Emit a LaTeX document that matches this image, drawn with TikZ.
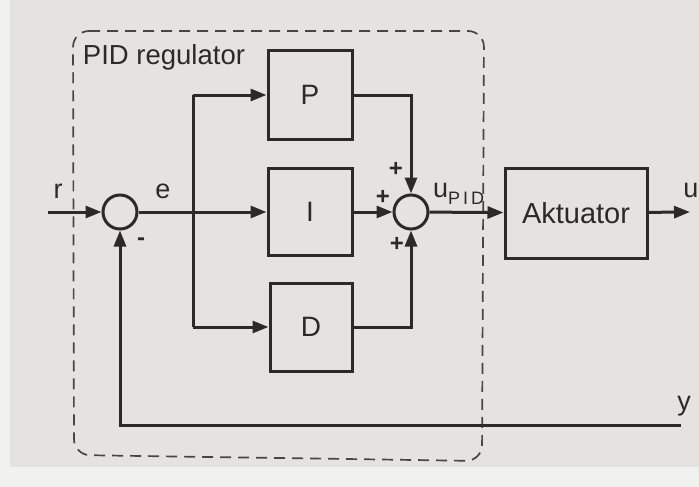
\documentclass[tikz,border=0pt]{standalone}
\usepackage{fontspec}
\setmainfont{Liberation Sans}
\usetikzlibrary{arrows.meta}
\definecolor{bgc}{RGB}{229,227,224}
\definecolor{margc}{RGB}{241,241,239}
\definecolor{ink}{RGB}{44,42,40}
\definecolor{dashc}{RGB}{72,70,68}
\begin{document}
\begin{tikzpicture}[x=1pt,y=-1pt,
  line/.style={draw=ink,line width=3pt},
  arr/.style={line,-{Triangle[length=16pt,width=12pt]}},
  blockbox/.style={draw=ink,line width=3pt,rectangle,inner sep=0pt,
     font=\fontsize{28}{30}\selectfont,text=ink},
  sumc/.style={draw=ink,line width=3pt,circle,minimum size=34pt,inner sep=0pt},
  lbl/.style={font=\fontsize{27}{29}\selectfont,text=ink,inner sep=0pt,anchor=base},
  sgn/.style={font=\fontsize{24}{26}\selectfont\bfseries,text=ink,inner sep=0pt}]
\fill[margc] (0,0) rectangle (699,487);
\fill[bgc] (10,0) rectangle (699,467);
\useasboundingbox (0,0) rectangle (699,487);
% dashed frame
\draw[dashc,line width=1.7pt,dash pattern=on 11pt off 7pt,rounded corners=16pt]
  (73,31) -- (484,31) -- (482,461) -- (74,455) -- cycle;
\node[lbl,font=\fontsize{27.5}{29}\selectfont] (title) at (164,65) {PID regulator};
% nodes
\node[sumc] (s1) at (120,212) {};
\node[sumc] (s2) at (411,212) {};
\node[blockbox,minimum width=84pt,minimum height=88pt] (P) at (310,95) {P};
\node[blockbox,minimum width=84pt,minimum height=87pt] (I) at (310,212) {I};
\node[blockbox,minimum width=82pt,minimum height=88pt] (D) at (311,327) {D};
\node[blockbox,minimum width=142pt,minimum height=90pt,font=\fontsize{29}{31}\selectfont] (A) at (576,213) {Aktuator};
\coordinate (rin) at (48,212);
\coordinate (bt) at (193,95);
\coordinate (bb) at (193,327);
\coordinate (uout) at (690,212);
\coordinate (yend) at (681,425);
\coordinate (fb) at (120,425);
% connectors
\draw[arr] (rin) -- (s1);
\draw[arr] (s1) -- (I);
\draw[line] (bt) -- (bb);
\draw[arr] (bt) -- (P);
\draw[arr] (bb) -- (D);
\draw[arr] (P) -| (s2);
\draw[arr] (D) -| (s2);
\draw[arr] (I) -- (s2);
\draw[arr] (s2) -- (A);
\draw[arr] (A) -- (uout);
\draw[arr] (yend) -- (fb) -- (s1);
% labels
\node[lbl] (lr) at (58,198) {r};
\node[lbl] (le) at (163,198) {e};
\node[lbl] (lu) at (691,197) {u};
\node[lbl] (ly) at (684,410) {y};
\node[lbl,anchor=base west] (lupid) at (433,197) {u\raisebox{-7pt}{\fontsize{18}{18}\selectfont P\,I\,D}};
\node[sgn] (p1) at (396,169) {+};
\node[sgn] (p2) at (383,197) {+};
\node[sgn] (p3) at (397,244) {+};
\node[sgn] (mn) at (141,242) {-};
\end{tikzpicture}
\end{document}
